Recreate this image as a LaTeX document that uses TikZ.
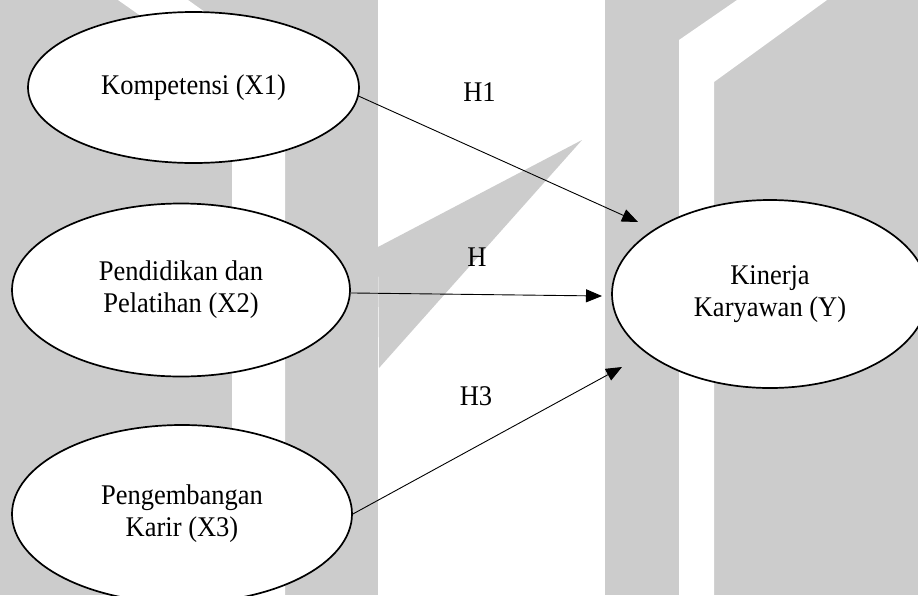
\documentclass[tikz,border=0pt]{standalone}
\usepackage{fontspec}
\setmainfont{Liberation Serif}[FakeStretch=0.93]
\usetikzlibrary{shapes.geometric,arrows.meta}
\definecolor{bggray}{RGB}{204,204,204}
\begin{document}
\begin{tikzpicture}[x=1pt,y=-1pt,
  var/.style={ellipse,draw=black,line width=1.7pt,fill=white,inner sep=0pt,align=center,font=\fontsize{28.5}{32}\selectfont},
  hyp/.style={inner sep=0pt,font=\fontsize{28.5}{32}\selectfont},
  arr/.style={line width=0.9pt,-{Triangle[length=16pt,width=13pt]}},
  wm/.style={fill=white,draw=none}]
\useasboundingbox (0,0) rectangle (918,595);
\clip (0,0) rectangle (918,595);
% background watermark
\fill[bggray] (0,0) rectangle (918,595);
\fill[wm] (118,0) -- (188,0) -- (285,69) -- (285,595) -- (232,595) -- (232,80) -- cycle;
\fill[wm] (378,0) rectangle (605,595);
\fill[bggray] (378,247) -- (582,140) -- (379,368) -- cycle;
\fill[wm] (737,0) -- (827,0) -- (714,82) -- (714,595) -- (679,595) -- (679,40) -- cycle;
% nodes
\node[var,minimum width=331pt,minimum height=151pt] (x1) at (193.5,87.5) {Kompetensi (X1)};
\node[var,minimum width=338pt,minimum height=173pt] (x2) at (181,290) {Pendidikan dan\\Pelatihan (X2)};
\node[var,minimum width=340pt,minimum height=178pt] (x3) at (182,514) {Pengembangan\\Karir (X3)};
\node[var,minimum width=316pt,minimum height=188pt] (y) at (770,294) {Kinerja\\Karyawan (Y)};
% arrow tips
\coordinate (t1) at (638,222);
\coordinate (t2) at (602,296);
\coordinate (t3) at (622,367);
\draw[arr] (x1.-3) -- (t1);
\draw[arr] (x2.-1.5) -- (t2);
\draw[arr] (x3.east) -- (t3);
% labels
\node[hyp] (h1) at (479.5,92) {H1};
\node[hyp] (h2) at (477,257.5) {H};
\node[hyp] (h3) at (476,396) {H3};
\end{tikzpicture}
\end{document}
